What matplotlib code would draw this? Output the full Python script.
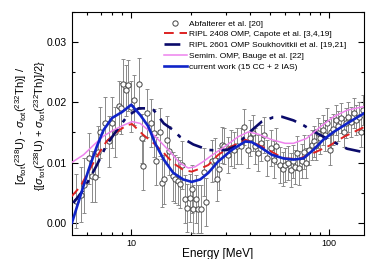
import matplotlib
matplotlib.use('Agg')
import matplotlib.pyplot as plt
from matplotlib.ticker import FixedLocator, NullFormatter, FormatStrFormatter, MultipleLocator

# Abfalterer et al. data points
energy = [5.29, 5.56, 5.80, 6.09, 6.33, 6.53, 6.77, 6.98, 7.39, 7.68,
          7.99, 8.30, 8.63, 8.87, 9.08, 9.36, 9.62, 10.0, 10.28, 10.9,
          11.3, 11.5, 12.0, 12.6, 13.0, 13.4, 13.9, 14.3, 14.7, 15.1,
          15.6, 16.2, 16.7, 17.2, 17.6, 18.1, 18.7, 19.2, 19.8, 20.2,
          20.6, 21.3, 21.7, 22.4, 23.2, 23.9, 25.5, 26.4, 27.1, 27.8,
          28.6, 29.5, 30.9, 31.9, 33.2, 34.1, 35.9, 37.3, 38.8, 39.6,
          41.1, 42.2, 43.6, 45.2, 47.0, 48.7, 50.9, 52.6, 53.8, 56.5,
          58.4, 59.9, 62.1, 64.0, 65.5, 67.0, 68.6, 70.5, 72.5, 74.5,
          76.7, 79.1, 81.3, 83.6, 85.5, 87.9, 90.0, 92.4, 95.0, 97.5,
          100.3, 102.0, 104.6, 107.7, 111.0, 114.3, 118.0, 121.0, 124.6, 128.0,
          132.8, 136.0, 140.4, 145.2, 148.5]
ratio = [0.0036, 0.0047, 0.0062, 0.0107, 0.0077, 0.0076, 0.0118, 0.0150, 0.0166, 0.0135,
         0.0166, 0.0151, 0.0194, 0.0190, 0.0230, 0.0220, 0.0228, 0.0193, 0.0204, 0.0231,
         0.0140, 0.0095, 0.0182, 0.0166, 0.0149, 0.0102, 0.0151, 0.0066, 0.0072, 0.0138,
         0.0120, 0.0077, 0.0073, 0.0069, 0.0065, 0.0096, 0.0039, 0.0025, 0.0041, 0.0056,
         0.0023, 0.0040, 0.0023, 0.0023, 0.0085, 0.0034, 0.0102, 0.0105, 0.0072, 0.0089,
         0.0129, 0.0127, 0.0113, 0.0124, 0.0121, 0.0127, 0.0128, 0.0159, 0.0121, 0.0141,
         0.0149, 0.0127, 0.0116, 0.0132, 0.0146, 0.0107, 0.0124, 0.0105, 0.0127, 0.0096,
         0.0089, 0.0096, 0.0099, 0.0088, 0.0102, 0.0093, 0.0116, 0.0091, 0.0103, 0.0118,
         0.0099, 0.0121, 0.0129, 0.0135, 0.0130, 0.0149, 0.0140, 0.0154, 0.0145, 0.0165,
         0.0121, 0.0150, 0.0155, 0.0171, 0.0160, 0.0174, 0.0151, 0.0165, 0.0176, 0.0168,
         0.0182, 0.0170, 0.0176, 0.0151, 0.0187]
ratio_err = [0.0045, 0.0045, 0.0045, 0.0042, 0.0042, 0.0042, 0.0042, 0.0042, 0.0042, 0.0042,
             0.0042, 0.0042, 0.0042, 0.0042, 0.0042, 0.0042, 0.0042, 0.0042, 0.0042, 0.0042,
             0.0040, 0.0040, 0.0040, 0.0040, 0.0040, 0.0040, 0.0040, 0.0040, 0.0040, 0.0040,
             0.0040, 0.0040, 0.0040, 0.0040, 0.0040, 0.0040, 0.0040, 0.0040, 0.0040, 0.0040,
             0.0040, 0.0040, 0.0040, 0.0040, 0.0040, 0.0040, 0.0035, 0.0035, 0.0035, 0.0035,
             0.0030, 0.0030, 0.0030, 0.0030, 0.0030, 0.0030, 0.0030, 0.0030, 0.0030, 0.0030,
             0.0030, 0.0030, 0.0030, 0.0030, 0.0030, 0.0030, 0.0030, 0.0030, 0.0030, 0.0030,
             0.0028, 0.0028, 0.0028, 0.0028, 0.0028, 0.0028, 0.0028, 0.0028, 0.0028, 0.0028,
             0.0025, 0.0025, 0.0025, 0.0025, 0.0025, 0.0025, 0.0025, 0.0025, 0.0025, 0.0025,
             0.0025, 0.0025, 0.0025, 0.0025, 0.0025, 0.0025, 0.0025, 0.0025, 0.0025, 0.0025,
             0.0025, 0.0025, 0.0025, 0.0025, 0.0025]

# RIPL 2408 (Capote)
capote_e = [5.0, 5.53, 6.09, 6.71, 7.5, 8.47, 9.5, 10.1, 11.5, 13.0, 14.6, 16.3, 18.3, 20.2,
            22.7, 24.5, 27.5, 32.2, 37.6, 42.2, 49.3, 58.6, 70.0, 86.0, 100.0, 118.8, 150.0]
capote_v = [0.0044, 0.0060, 0.0085, 0.0110, 0.0135, 0.0151, 0.0162, 0.0164, 0.0146, 0.0132,
            0.0116, 0.0099, 0.0088, 0.0085, 0.0091, 0.0096, 0.0113, 0.0127, 0.0138, 0.0132,
            0.0121, 0.0107, 0.0106, 0.0118, 0.0128, 0.0143, 0.0159]

# RIPL 2601 (Soukhovitskii)
soukh_e = [5.1, 5.75, 6.71, 7.5, 8.47, 9.5, 10.9, 12.0, 13.0, 14.6, 16.3, 17.6, 20.6, 24.5,
           27.5, 30.4, 33.6, 39.1, 45.6, 52.0, 57.7, 65.9, 74.0, 83.0, 101.0, 123.0, 150.0]
soukh_v = [0.0033, 0.0055, 0.0096, 0.0129, 0.0154, 0.0176, 0.0190, 0.0190, 0.0187, 0.0165,
           0.0154, 0.0143, 0.0130, 0.0121, 0.0120, 0.0121, 0.0127, 0.0149, 0.0168, 0.0175,
           0.0176, 0.0170, 0.0162, 0.0152, 0.0137, 0.0123, 0.0117]

# Semim. OMP (Bauge)
bauge_e = [5.0, 5.75, 6.46, 7.25, 8.15, 9.15, 10.1, 11.1, 12.5, 14.0, 15.7, 17.6, 19.4, 21.0,
           23.2, 25.0, 29.8, 34.7, 39.1, 43.9, 51.2, 59.8, 65.9, 76.7, 90.6, 105.0, 123.0, 150.0]
bauge_v = [0.0100, 0.0113, 0.0129, 0.0144, 0.0154, 0.0162, 0.0168, 0.0165, 0.0151, 0.0135,
           0.0118, 0.0099, 0.0091, 0.0093, 0.0102, 0.0110, 0.0127, 0.0143, 0.0151, 0.0147,
           0.0138, 0.0132, 0.0132, 0.0140, 0.0160, 0.0176, 0.0187, 0.0193]

# current work
cur_e = [5.02, 5.53, 6.09, 6.71, 7.25, 8.0, 9.0, 10.0, 11.1, 12.2, 13.2, 14.6, 16.3, 18.3,
         20.2, 22.3, 24.5, 27.5, 32.2, 37.6, 40.6, 45.6, 51.2, 58.6, 65.9, 74.1, 83.0, 93.3,
         105.3, 123.0, 150.0]
cur_v = [0.0000, 0.0044, 0.0088, 0.0127, 0.0154, 0.0174, 0.0184, 0.0196, 0.0179, 0.0160,
         0.0132, 0.0105, 0.0083, 0.0072, 0.0068, 0.0072, 0.0083, 0.0102, 0.0121, 0.0135,
         0.0134, 0.0124, 0.0113, 0.0107, 0.0105, 0.0107, 0.0121, 0.0138, 0.0151, 0.0165, 0.0182]

plt.rcParams['font.family'] = ['Liberation Sans', 'DejaVu Sans']
plt.rcParams['mathtext.fontset'] = 'custom'
plt.rcParams['mathtext.rm'] = 'Liberation Sans'
plt.rcParams['mathtext.it'] = 'Liberation Sans:italic'

fig = plt.figure(figsize=(3.69, 2.59), dpi=100)
ax = fig.add_axes([0.194, 0.093, 0.793, 0.861])

h_data = ax.errorbar(energy, ratio, yerr=ratio_err, fmt='o', ms=3.8, mfc='white', mec='#444444',
                     mew=0.7, ecolor='#8a8a8a', elinewidth=0.7, capsize=1.5, capthick=0.6,
                     zorder=2)
h_cap, = ax.plot(capote_e, capote_v, color='#dd2222', lw=1.4, ls=(0, (5, 3)), zorder=3)
h_sou, = ax.plot(soukh_e, soukh_v, color='#0a0a6a', lw=1.9, ls=(0, (6, 3, 1.5, 3)), zorder=3)
h_bau, = ax.plot(bauge_e, bauge_v, color='#ee82ee', lw=1.1, zorder=3)
h_cur, = ax.plot(cur_e, cur_v, color='#1024c8', lw=1.9, zorder=4)

# legend marker for data: open circle only
h_pt, = ax.plot([], [], 'o', ms=3.8, mfc='white', mec='#444444', mew=0.7)

ax.set_xscale('log')
ax.set_xlim(5, 150)
ax.set_ylim(-0.002, 0.035)
ax.xaxis.set_major_locator(FixedLocator([10, 100]))
ax.xaxis.set_minor_locator(FixedLocator([6, 7, 8, 9, 20, 30, 40, 50, 60, 70, 80, 90]))
ax.xaxis.set_minor_formatter(NullFormatter())
ax.set_xticklabels(['10', '100'])
ax.yaxis.set_major_locator(MultipleLocator(0.01))
ax.yaxis.set_minor_locator(MultipleLocator(0.005))
ax.yaxis.set_major_formatter(FormatStrFormatter('%.2f'))
ax.tick_params(which='both', direction='in', top=True, right=True, width=0.8)
ax.tick_params(which='major', length=4)
ax.tick_params(which='minor', length=2)
ax.tick_params(axis='y', labelsize=7.5)
ax.tick_params(axis='x', labelsize=6.5, pad=3)
for s in ax.spines.values():
    s.set_linewidth(0.8)

ax.set_xlabel('Energy [MeV]', fontsize=8.5, labelpad=0)
ax.set_ylabel('[$\\sigma_{\\rm tot}$($^{238}$U) - $\\sigma_{\\rm tot}$($^{232}$Th)] /\n'
              '{[$\\sigma_{\\rm tot}$($^{238}$U) + $\\sigma_{\\rm tot}$($^{232}$Th)]/2}',
              fontsize=8, linespacing=1.3)
ax.yaxis.set_label_coords(-0.079, 0.49)

ax.legend([h_pt, h_cap, h_sou, h_bau, h_cur],
          ['Abfalterer et al. [20]', 'RIPL 2408 OMP, Capote et al. [3,4,19]',
           'RIPL 2601 OMP Soukhovitkii et al. [19,21]', 'Semim. OMP, Bauge et al. [22]',
           'current work (15 CC + 2 IAS)'],
          loc='upper right', bbox_to_anchor=(0.96, 0.995), frameon=False, fontsize=6,
          handlelength=2.8, handletextpad=0.2, labelspacing=0.35, borderpad=0.3)

fig.savefig('out.png', dpi=100)
